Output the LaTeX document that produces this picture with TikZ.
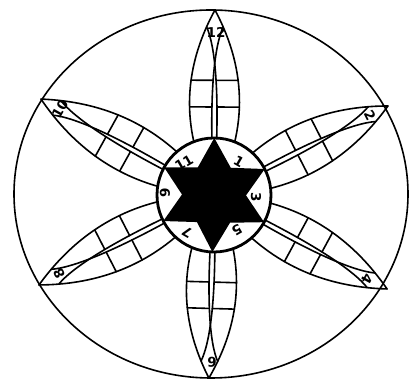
\documentclass[tikz,border=0pt]{standalone}
\usepackage{fontspec}
\setmainfont{DejaVu Sans}
\begin{document}
\begin{tikzpicture}[x=1pt,y=1pt,
  line/.style={line width=1.6pt, line cap=round, line join=round},
  num/.style={font=\fontsize{13.5}{13.5}\selectfont\bfseries, inner sep=0pt}]
\useasboundingbox (0,0) rectangle (410,379);
\coordinate (C) at (214,184);
\coordinate (E) at (211,185);
% outer ellipse
\draw[line] (E) ellipse [x radius=197, y radius=184];
% petals
\newcommand\petal[2]{%
\begin{scope}[shift={(C)}, rotate=#1, xscale=#2/185]
 \draw[line] (0,0) .. controls (61.7,33.3) and (123.3,33.3) .. (185,0);
 \draw[line] (0,0) .. controls (61.7,-33.3) and (123.3,-33.3) .. (185,0);
 \draw[line] (20,1) .. controls (105,5.5) and (150,0) .. (168,-8.3);
 \draw[line] (20,-1) .. controls (105,-5.5) and (150,0) .. (168,8.3);
 \draw[line] (88,2.4) -- (88,24.9);
 \draw[line] (114.7,1.6) -- (114.7,23.6);
 \draw[line] (88,-2.4) -- (88,-24.9);
 \draw[line] (114.7,-1.6) -- (114.7,-23.6);
\end{scope}}
\petal{89.7}{185}
\petal{27.1}{195.4}
\petal{-28.5}{196.9}
\petal{-91.6}{183.1}
\petal{207.2}{196.8}
\petal{151}{197.8}
% centre disc
\draw[line width=2.8pt, fill=white] (C) circle [radius=57];
% star
\begin{scope}[shift={(C)}]
\fill[black] (27.1:57) -- (58.4:32) -- (89.7:57) -- (120.35:32) -- (151:57) -- (179.1:32)
  -- (207.2:57) -- (237.8:32) -- (268.4:57) -- (299.95:32) -- (331.5:57) -- (359.3:32) -- cycle;
\end{scope}
% outer numbers
\node[num, rotate=0] (n12) at (216,347) {12};
\node[num, rotate=-63] (n2) at (370,264) {2};
\node[num, rotate=-118.5] (n4) at (367,100) {4};
\node[num, rotate=178.4] (n6) at (212,17) {6};
\node[num, rotate=117] (n8) at (59,105) {8};
\node[num, rotate=61] (n10) at (60,270) {10};
% inner numbers
\node[num, rotate=30] (n11) at (184,216) {11};
\node[num, rotate=-30] (n1) at (239,217) {1};
\node[num, rotate=-90] (n3) at (256,182) {3};
\node[num, rotate=-150] (n5) at (237,149) {5};
\node[num, rotate=150] (n7) at (187,147) {7};
\node[num, rotate=90] (n9) at (165,186) {9};
\end{tikzpicture}
\end{document}
